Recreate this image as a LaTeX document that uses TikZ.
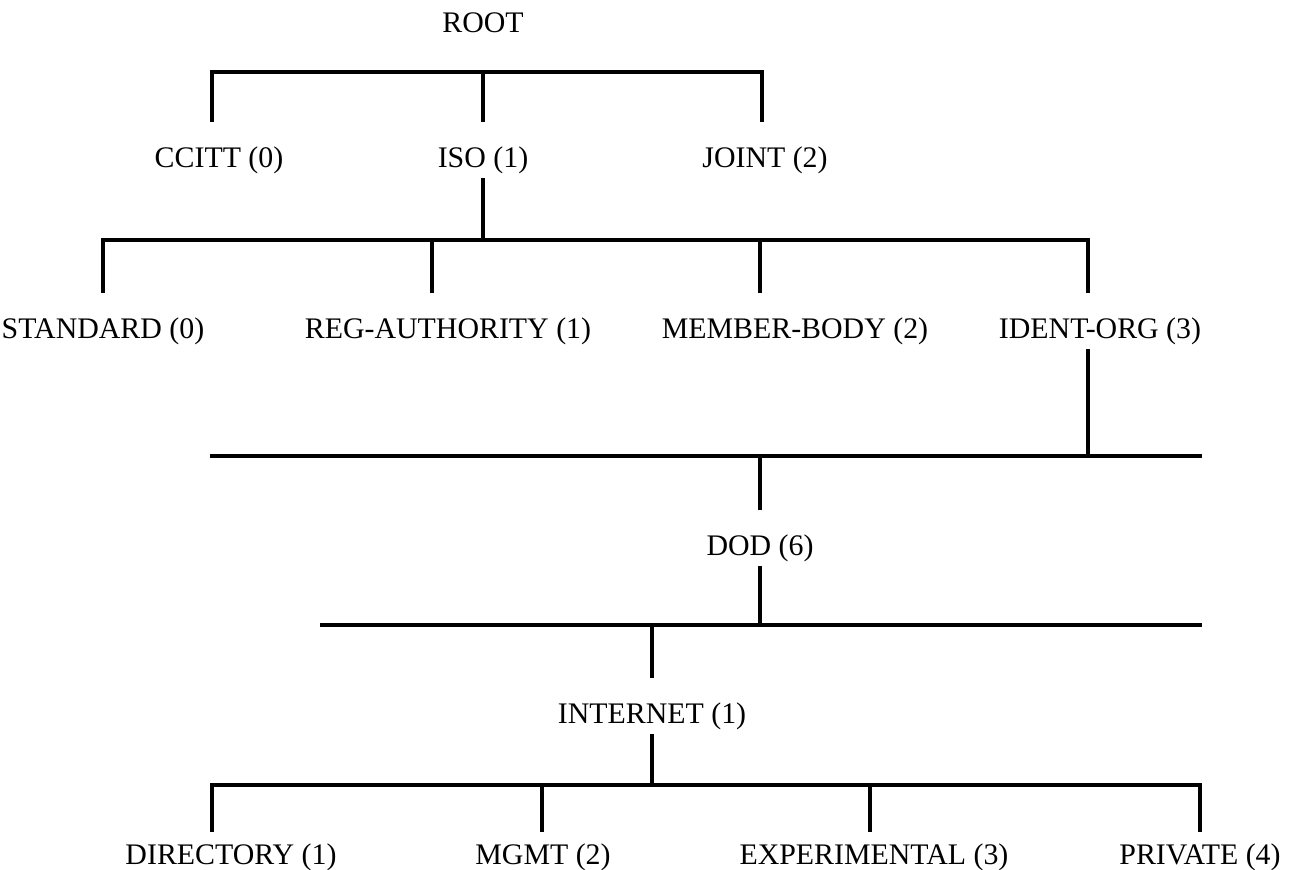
\documentclass[tikz,border=0pt]{standalone}
\usepackage{fontspec}
\setmainfont{Liberation Serif}
\usetikzlibrary{positioning, calc}
\begin{document}
\begin{tikzpicture}[x=0.02cm, y=-0.02cm, font=\fontsize{17}{20}\selectfont,
          lbl/.style={anchor=base, inner xsep=0pt, inner ysep=2pt, text height=23.6pt, text depth=4.3pt},
          leaf/.style={lbl, text height=16pt},
          bar/.style={line width=2.2pt, line cap=rect},
          stem/.style={line width=1.8pt}]
        \useasboundingbox (0,0) rectangle (1298,869);

        \node [lbl] (root) at (483,32) {ROOT};
        \node [lbl] (ccitt) at (219,167) {CCITT (0)};
        \node [lbl] (iso) at (483,167) {ISO (1)};
        \node [lbl] (joint) at (765,167) {JOINT (2)};
        \node [lbl] (standard) at (103,338) {STANDARD (0)};
        \node [lbl] (regauth) at (448,338) {REG-AUTHORITY (1)};
        \node [lbl] (memberbody) at (795,338) {MEMBER-BODY (2)};
        \node [lbl] (identorg) at (1100,338) {IDENT-ORG (3)};
        \node [lbl] (dod) at (760,555) {DOD (6)};
        \node [lbl] (internet) at (652,723) {INTERNET (1)};
        \node [leaf] (directory) at (231,864) {DIRECTORY (1)};
        \node [leaf] (mgmt) at (543,864) {MGMT (2)};
        \node [leaf] (experimental) at (874,864) {EXPERIMENTAL (3)};
        \node [leaf] (private) at (1200,864) {PRIVATE (4)};

        \coordinate (b1l) at (212,72);
        \coordinate (b1r) at (762,72);
        \coordinate (b2l) at (103,240);
        \coordinate (b2a) at (432,240);
        \coordinate (b2b) at (760,240);
        \coordinate (b2r) at (1088,240);
        \coordinate (b3l) at (212,456);
        \coordinate (b3r) at (1200,456);
        \coordinate (b4l) at (322,625);
        \coordinate (b4r) at (1200,625);
        \coordinate (b5l) at (212,785);
        \coordinate (b5a) at (542,785);
        \coordinate (b5b) at (870,785);
        \coordinate (b5r) at (1200,785);

        \draw [bar] (b1l) -- (b1r);
        \draw [bar] (b2l) -- (b2r);
        \draw [bar] (b3l) -- (b3r);
        \draw [bar] (b4l) -- (b4r);
        \draw [bar] (b5l) -- (b5r);

        \draw [stem] (b1l) -- (b1l |- ccitt.north);
        \draw [stem] (iso.north |- b1l) -- (iso.north);
        \draw [stem] (b1r) -- (b1r |- joint.north);
        \draw [stem] (iso.south) -- (iso.south |- b2l);
        \draw [stem] (b2l) -- (b2l |- standard.north);
        \draw [stem] (b2a) -- (b2a |- regauth.north);
        \draw [stem] (b2b) -- (b2b |- memberbody.north);
        \draw [stem] (b2r) -- (b2r |- identorg.north);
        \draw [stem] (b2r |- identorg.south) -- (b2r |- b3l);
        \draw [stem] (dod.north |- b3l) -- (dod.north);
        \draw [stem] (dod.south) -- (dod.south |- b4l);
        \draw [stem] (internet.north |- b4l) -- (internet.north);
        \draw [stem] (internet.south) -- (internet.south |- b5l);
        \draw [stem] (b5l) -- (b5l |- directory.north);
        \draw [stem] (b5a) -- (b5a |- mgmt.north);
        \draw [stem] (b5b) -- (b5b |- experimental.north);
        \draw [stem] (b5r) -- (b5r |- private.north);
      \end{tikzpicture}
\end{document}
